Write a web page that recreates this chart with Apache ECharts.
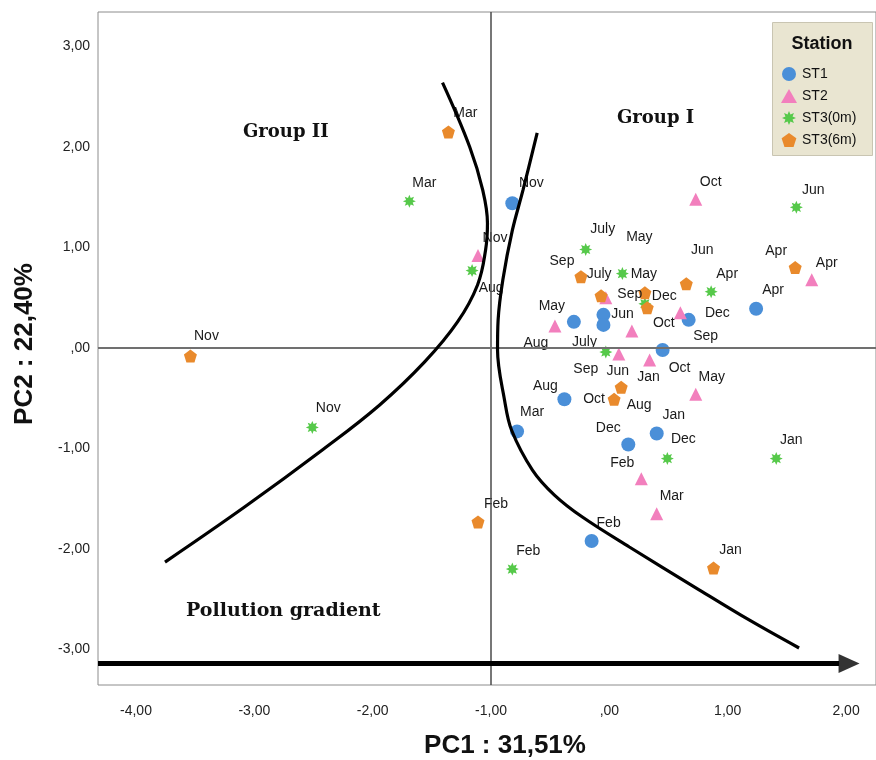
<!DOCTYPE html>
<html><head><meta charset="utf-8">
<script src="https://cdn.jsdelivr.net/npm/echarts@6/dist/echarts.min.js"></script>
<style>html,body{margin:0;padding:0;background:#fff}#c{width:876px;height:760px}</style>
</head><body><div id="c"></div>
<script>
// ---- data ----
const months = ['Jan','Feb','Mar','Apr','May','Jun','July','Aug','Sep','Oct','Nov','Dec'];
const stations = ['ST1','ST2','ST3(0m)','ST3(6m)'];
const st1PC1 = [0.40,-0.15,-0.78,1.24,-0.30,-0.05,-0.05,-0.38,0.67,0.45,-0.82,0.16];
const st1PC2 = [-0.85,-1.92,-0.83,0.39,0.26,0.33,0.23,-0.51,0.28,-0.02,1.44,-0.96];
const st2PC1 = [0.34,0.27,0.40,1.71,0.73,0.08,0.19,-0.46,-0.03,0.73,-1.11,0.60];
const st2PC2 = [-0.12,-1.30,-1.65,0.68,-0.46,-0.06,0.17,0.22,0.50,1.48,0.92,0.35];
const st30PC1 = [1.41,-0.82,-1.69,0.86,0.11,1.58,-0.20,-1.16,-0.03,0.30,-2.51,0.49];
const st30PC2 = [-1.10,-2.20,1.46,0.56,0.74,1.40,0.98,0.77,-0.04,0.44,-0.79,-1.10];
const st36PC1 = [0.88,-1.11,-1.36,1.57,0.30,0.65,-0.07,0.10,-0.24,0.04,-3.54,0.32];
const st36PC2 = [-2.19,-1.73,2.15,0.80,0.55,0.64,0.52,-0.39,0.71,-0.51,-0.08,0.40];
const curveGroupII = [[-3.755,-2.13],[-3.08,-1.58],[-2.42,-1.01],[-1.941,-0.567],[-1.561,-0.139],[-1.283,0.259],[-1.114,0.627],[-1.046,0.975],[-1.03,1.24],[-1.07,1.57],[-1.18,2.00],[-1.41,2.64]];
const curveGroupI = [[-0.61,2.14],[-0.73,1.57],[-0.82,1.17],[-0.90,0.68],[-0.94,0.28],[-0.945,-0.02],[-0.886,-0.517],[-0.827,-0.816],[-0.65,-1.214],[-0.464,-1.463],[-0.228,-1.682],[0.169,-1.98],[0.734,-2.388],[1.181,-2.706],[1.603,-2.985]];
const gradientArrow = [[-4.321,-3.14],[1.941,-3.14]];
const xTicks = [-4,-3,-2,-1,0,1,2];
const yTicks = [-3,-2,-1,0,1,2,3];

// ---- styles ----
const colors = {'ST1':'#4a8fd8','ST2':'#f27fbd','ST3(0m)':'#56c94a','ST3(6m)':'#e98a2c'};
function starPath(n, r1, r2){
  let s = 'path://';
  for (let i = 0; i < 2*n; i++){
    const a = Math.PI*i/n - Math.PI/2, r = i%2 ? r2 : r1;
    s += (i ? 'L' : 'M') + (r*Math.cos(a)).toFixed(3) + ',' + (r*Math.sin(a)).toFixed(3);
  }
  return s + 'Z';
}
const symbols = {'ST1':'circle','ST2':'triangle','ST3(0m)':starPath(8,1,0.55),
  'ST3(6m)':'path://M0,-1L0.951,-0.309L0.588,0.809L-0.588,0.809L-0.951,-0.309Z'};
const symbolSizes = {'ST1':14,'ST2':13,'ST3(0m)':13,'ST3(6m)':13};
// label offsets (px) in month order; null = label hidden
const labelOffsets = {
  'ST1':[[17,-18],[17,-18],[15,-19],[17,-19],[-22,-16],[19,-1],[-19,17],[-19,-13],[17,16],[17,18],[19,-20],[-20,-16]],
  'ST2':[[-1,17],[-19,-16],[15,-18],[15,-17],[16,-17],[-1,17],null,[-19,17],[24,-4],[15,-17],[17,-17],[37,0]],
  'ST3(0m)':[[15,-18],[16,-18],[15,-18],[16,-18],[17,-36],[17,-17],[17,-20],[19,18],[-20,17],[19,19],[16,-19],[16,-19]],
  'ST3(6m)':[[17,-18],[18,-18],[17,-19],[-19,-16],[-1,-19],[16,-34],[-2,-22],[18,18],[-19,-15],[-20,0],[16,-20],[17,-12]]
};
const seriesXY = {'ST1':[st1PC1,st1PC2],'ST2':[st2PC1,st2PC2],'ST3(0m)':[st30PC1,st30PC2],'ST3(6m)':[st36PC1,st36PC2]};

function fmt(v){ return v === 0 ? ',00' : v.toFixed(2).replace('.', ','); }

const scatterSeries = stations.map(function(st){
  const xs = seriesXY[st][0], ys = seriesXY[st][1];
  return {
    name: st, type: 'scatter', symbol: symbols[st], symbolSize: symbolSizes[st],
    itemStyle: {color: colors[st], opacity: 1},
    z: 3,
    label: {show: true, position: 'inside', color: '#1a1a1a', fontSize: 14,
            fontFamily: 'Liberation Sans, Arial, sans-serif', formatter: function(p){ return p.name; }},
    data: months.map(function(m, i){
      const off = labelOffsets[st][i];
      return {name: m, value: [xs[i], ys[i]],
              label: off ? {show: true, offset: off} : {show: false}};
    })
  };
});

const chart = echarts.init(document.getElementById('c'), null, {renderer: 'canvas'});
chart.setOption({
  animation: false,
  grid: {left: 98, right: -1, top: 12, bottom: 75, show: true, borderColor: '#8c8c8c', borderWidth: 1, backgroundColor: '#fff'},
  xAxis: {type: 'value', min: -4.321, max: 2.253,
    axisLine: {show: false}, axisTick: {show: false}, splitLine: {show: false},
    axisLabel: {customValues: xTicks, formatter: fmt, color: '#222', fontSize: 14, margin: 19,
      fontFamily: 'Liberation Sans Narrow, Liberation Sans, Arial, sans-serif'}},
  yAxis: {type: 'value', min: -3.353, max: 3.343,
    axisLine: {show: false}, axisTick: {show: false}, splitLine: {show: false},
    axisLabel: {customValues: yTicks, formatter: fmt, color: '#222', fontSize: 14, margin: 8,
      fontFamily: 'Liberation Sans Narrow, Liberation Sans, Arial, sans-serif'}},
  legend: {data: stations, orient: 'vertical', left: 776, top: 62, itemWidth: 16, itemHeight: 14, itemGap: 8,
    textStyle: {fontSize: 14, color: '#111', fontFamily: 'Liberation Sans, Arial, sans-serif'}, z: 10,
    selectedMode: false},
  graphic: [
    {type: 'rect', left: 772, top: 22, shape: {width: 100, height: 133}, z: 8,
      style: {fill: '#e9e5d1', stroke: '#c9c5b2', lineWidth: 1}},
    {type: 'text', x: 822, y: 44, z: 9,
      style: {text: 'Station', font: 'bold 18px Liberation Sans, Arial, sans-serif', fill: '#111', textAlign: 'center', textVerticalAlign: 'middle'}},
    {type: 'text', left: 243, top: 123, z: 9,
      style: {text: 'Group II', font: 'bold 18px DejaVu Serif, serif', fill: '#111'}},
    {type: 'text', left: 617, top: 109, z: 9,
      style: {text: 'Group I', font: 'bold 18px DejaVu Serif, serif', fill: '#111'}},
    {type: 'text', left: 186, top: 602, z: 9,
      style: {text: 'Pollution gradient', font: 'bold 19px DejaVu Serif, serif', fill: '#111'}},
    {type: 'text', x: 505, y: 746, z: 9,
      style: {text: 'PC1 : 31,51%', font: 'bold 26px Liberation Sans, Arial, sans-serif', fill: '#111', textAlign: 'center', textVerticalAlign: 'middle'}},
    {type: 'text', x: 25, y: 344, rotation: Math.PI/2, z: 9,
      style: {text: 'PC2 : 22,40%', font: 'bold 26px Liberation Sans, Arial, sans-serif', fill: '#111', textAlign: 'center', textVerticalAlign: 'middle'}}
  ],
  series: [
    {type: 'line', name: 'ref', data: [], silent: true, z: 2,
      markLine: {silent: true, symbol: 'none', label: {show: false},
        data: [{xAxis: -1, lineStyle: {color: '#4a4a4a', width: 1.5, type: 'solid'}},
               {yAxis: 0, lineStyle: {color: '#707070', width: 2.2, type: 'solid'}}]}}
  ].concat(scatterSeries).concat([
    {type: 'line', name: 'GII', data: curveGroupII, smooth: 0.4, symbol: 'none', silent: true, z: 6,
      lineStyle: {color: '#000', width: 3.2}},
    {type: 'line', name: 'GI', data: curveGroupI, smooth: 0.35, symbol: 'none', silent: true, z: 6,
      lineStyle: {color: '#000', width: 3.2}},
    {type: 'line', name: 'arrow', data: gradientArrow, symbol: 'none', silent: true, z: 6,
      lineStyle: {color: '#000', width: 5}},
    {type: 'scatter', name: 'arrowHead', data: [gradientArrow[1]], silent: true, z: 6,
      symbol: 'path://M0,0L1,0.5L0,1Z', symbolSize: [21, 19], symbolOffset: [10, 0],
      itemStyle: {color: '#000'}}
  ])
});
</script></body></html>
